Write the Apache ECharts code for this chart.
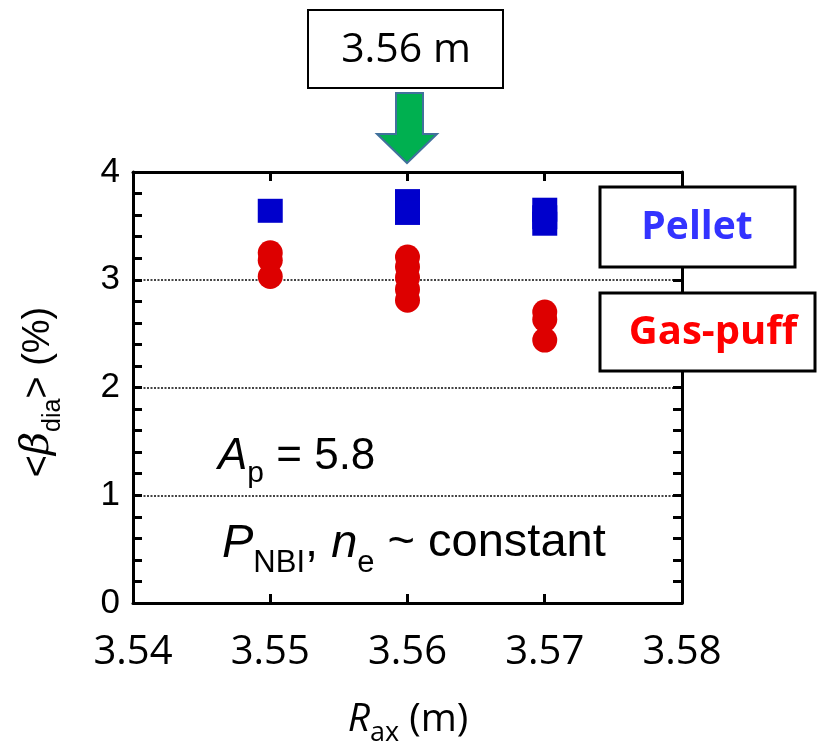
<!DOCTYPE html>
<html>
<head>
<meta charset="utf-8">
<script src="https://cdn.jsdelivr.net/npm/echarts@6/dist/echarts.min.js"></script>
<style>
  html, body { margin: 0; padding: 0; background: #fff; }
  #chart { width: 819px; height: 742px; }
</style>
</head>
<body>
<div id="chart"></div>
<script>
// Magnetic axis position scan: diamagnetic beta for pellet and gas-puff fuelled discharges
const xTicks = [3.54, 3.55, 3.56, 3.57, 3.58];
const yTicks = [0, 1, 2, 3, 4];

const pelletR    = [3.55, 3.56, 3.56, 3.56, 3.57, 3.57, 3.57];
const pelletBeta = [3.64, 3.73, 3.68, 3.62, 3.65, 3.58, 3.52];

const gasR    = [3.55, 3.55, 3.55, 3.56, 3.56, 3.56, 3.56, 3.56, 3.57, 3.57, 3.57];
const gasBeta = [3.25, 3.18, 3.03, 3.21, 3.12, 3.02, 2.91, 2.81, 2.70, 2.63, 2.44];

const ARIAL = '"Liberation Sans", Arial, sans-serif';
const OPEN = '"Open Sans", sans-serif';

const ctx2d = document.createElement('canvas').getContext('2d');
function fontOf(p) {
  return (p.italic ? 'italic ' : '') + (p.bold ? 'bold ' : '') + p.size + 'px ' + p.family;
}
function widthOf(p) { ctx2d.font = fontOf(p); return ctx2d.measureText(p.text).width; }

// Lay out a run of text pieces (with sub-scripts) along a baseline
function textRun(parts, x0, baseline, center) {
  let total = 0;
  parts.forEach(p => { total += widthOf(p); });
  let x = center ? x0 - total / 2 : x0;
  return parts.map(p => {
    const el = {
      type: 'text', x: x, y: baseline + (p.dy || 0),
      style: { text: p.text, font: fontOf(p), fill: p.color || '#000',
               align: 'left', verticalAlign: 'bottom' }
    };
    x += widthOf(p);
    return el;
  });
}

const chart = echarts.init(document.getElementById('chart'), null, { renderer: 'canvas' });

const axisLine = { show: true, onZero: false, lineStyle: { color: '#000', width: 3 } };
const tick = { show: true, inside: true, length: 9, lineStyle: { color: '#000', width: 3 } };
const minor = { show: true, splitNumber: 5, length: 9, lineStyle: { color: '#000', width: 3 } };

const graphics = [];

// y-axis title, rotated
graphics.push({
  type: 'group', x: 58, y: 392, rotation: Math.PI / 2,
  children: textRun([
    { text: '<', size: 38, family: ARIAL },
    { text: 'β', size: 40, family: '"DejaVu Serif", serif', italic: true },
    { text: 'dia', size: 25, family: ARIAL, dy: 8 },
    { text: '> (%)', size: 38, family: ARIAL }
  ], 0, 0, true)
});

// x-axis title
graphics.push(...textRun([
  { text: 'R', size: 39, family: OPEN, italic: true },
  { text: 'ax', size: 27, family: OPEN, dy: 8 },
  { text: ' (m)', size: 39, family: OPEN }
], 408, 739, true));

// in-plot annotations
graphics.push(...textRun([
  { text: 'A', size: 44, family: ARIAL, italic: true },
  { text: 'p', size: 30, family: ARIAL, dy: 10 },
  { text: ' = 5.8', size: 44, family: ARIAL }
], 218, 479, false));

graphics.push(...textRun([
  { text: 'P', size: 47, family: ARIAL, italic: true },
  { text: 'NBI', size: 31, family: ARIAL, dy: 12 },
  { text: ', ', size: 47, family: ARIAL },
  { text: 'n', size: 47, family: ARIAL, italic: true },
  { text: 'e', size: 31, family: ARIAL, dy: 12 },
  { text: ' ~ constant', size: 47, family: ARIAL }
], 222, 567, false));

// label box and arrow marking 3.56 m
graphics.push({
  type: 'rect', shape: { x: 308, y: 10, width: 195, height: 78 },
  style: { fill: '#fff', stroke: '#000', lineWidth: 2 }
});
graphics.push({
  type: 'text', x: 406, y: 50,
  style: { text: '3.56 m', font: '41px ' + OPEN, fill: '#000', align: 'center', verticalAlign: 'middle' }
});
graphics.push({
  type: 'polygon',
  shape: { points: [[396, 93], [423, 93], [423, 134], [437, 134], [407, 163], [377, 134], [396, 134]] },
  style: { fill: '#00b050', stroke: '#41719c', lineWidth: 2 }
});

// series legend boxes
graphics.push({
  type: 'rect', shape: { x: 600, y: 187, width: 195, height: 80 },
  style: { fill: '#fff', stroke: '#000', lineWidth: 3 }
});
graphics.push({
  type: 'text', x: 697, y: 228,
  style: { text: 'Pellet', font: 'bold 39px ' + OPEN, fill: '#3333ff', align: 'center', verticalAlign: 'middle' }
});
graphics.push({
  type: 'rect', shape: { x: 600, y: 293, width: 215, height: 78 },
  style: { fill: '#fff', stroke: '#000', lineWidth: 3 }
});
graphics.push({
  type: 'text', x: 713, y: 333,
  style: { text: 'Gas-puff', font: 'bold 40px ' + OPEN, fill: '#ff0000', align: 'center', verticalAlign: 'middle' }
});

graphics.forEach(g => { g.z = 100; });

chart.setOption({
  animation: false,
  backgroundColor: '#fff',
  grid: { left: 133, right: 137, top: 172, bottom: 139 },
  xAxis: [
    {
      type: 'value', position: 'bottom',
      min: xTicks[0], max: xTicks[xTicks.length - 1], interval: 0.01,
      axisLine: axisLine, axisTick: tick, splitLine: { show: false },
      axisLabel: { color: '#000', fontFamily: OPEN, fontSize: 40, margin: 30,
                   formatter: v => v.toFixed(2) }
    },
    {
      type: 'value', position: 'top',
      min: xTicks[0], max: xTicks[xTicks.length - 1], interval: 0.01,
      axisLine: axisLine, axisTick: tick, splitLine: { show: false },
      axisLabel: { show: false }
    }
  ],
  yAxis: [
    {
      type: 'value', position: 'left',
      min: yTicks[0], max: yTicks[yTicks.length - 1], interval: 1,
      axisLine: axisLine, axisTick: tick, minorTick: minor,
      splitLine: { show: true, lineStyle: { color: '#444', width: 2, type: [2, 1.5] } },
      axisLabel: { color: '#000', fontFamily: ARIAL, fontSize: 35, margin: 13 }
    },
    {
      type: 'value', position: 'right',
      min: yTicks[0], max: yTicks[yTicks.length - 1], interval: 1,
      axisLine: axisLine, axisTick: tick, minorTick: minor,
      splitLine: { show: false }, axisLabel: { show: false }
    }
  ],
  series: [
    {
      name: 'Pellet', type: 'scatter', symbol: 'rect', symbolSize: [25, 24],
      itemStyle: { color: '#0000cc', opacity: 1 },
      data: pelletR.map((r, i) => [r, pelletBeta[i]]),
      z: 5
    },
    {
      name: 'Gas-puff', type: 'scatter', symbol: 'circle', symbolSize: 25,
      itemStyle: { color: '#dd0000', opacity: 1 },
      data: gasR.map((r, i) => [r, gasBeta[i]]),
      z: 5
    }
  ],
  graphic: graphics
});
</script>
</body>
</html>
